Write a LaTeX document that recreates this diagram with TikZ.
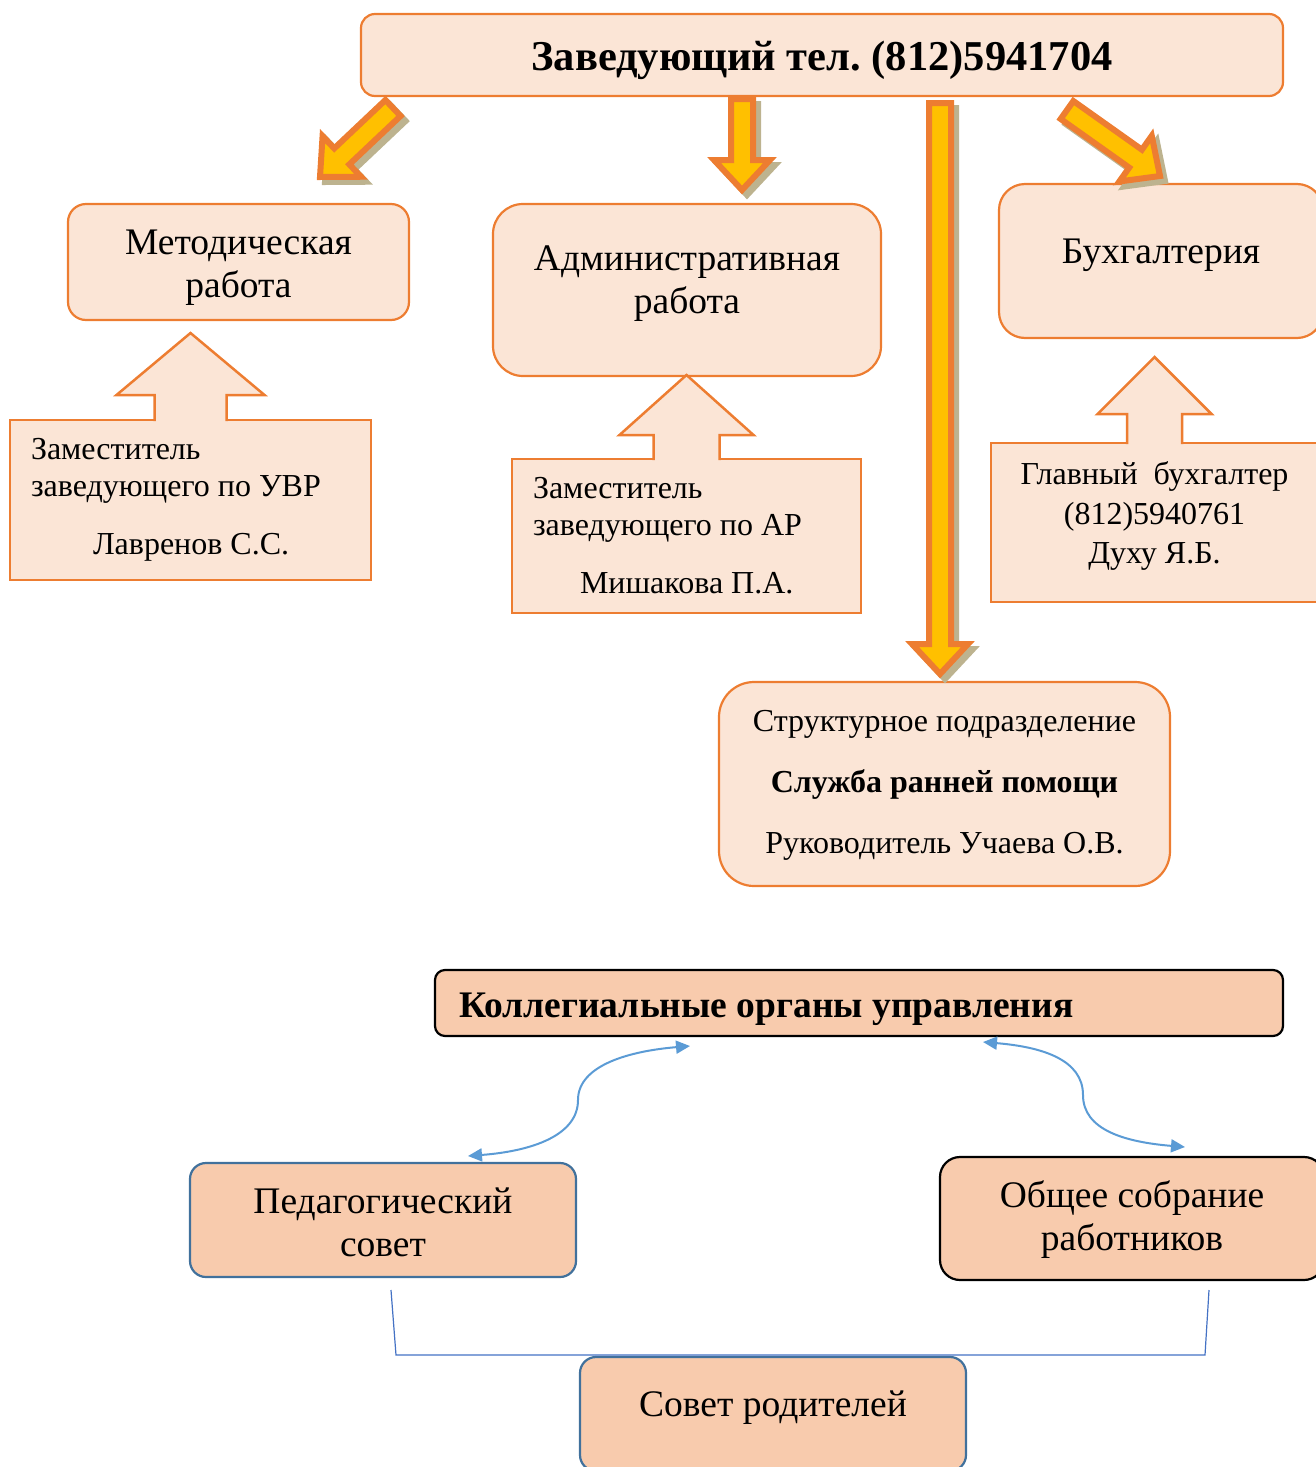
\documentclass[tikz,border=0pt]{standalone}
\usepackage{fontspec}
\setmainfont{Liberation Serif}
\usetikzlibrary{calc,arrows.meta}
\frenchspacing

\definecolor{peach}{HTML}{FBE5D6}
\definecolor{peachdark}{HTML}{F8CBAD}
\definecolor{orangeline}{HTML}{ED7D31}
\definecolor{arrowyellow}{HTML}{FFC000}
\definecolor{arrowshadow}{HTML}{BDB38F}
\definecolor{steelline}{HTML}{41719C}
\definecolor{curveblue}{HTML}{5B9BD5}
\definecolor{bracketblue}{HTML}{4472C4}

% fat block arrow polygon: style, tail, tip
\newcommand{\fatpoly}[3]{%
  \coordinate (hb) at ($(#3)!30pt!(#2)$);
  \path[#1] ($(#2)!11pt!90:(#3)$) -- ($(hb)!11pt!-90:(#2)$) -- ($(hb)!28pt!-90:(#2)$) -- (#3)
    -- ($(hb)!28pt!90:(#2)$) -- ($(hb)!11pt!90:(#2)$) -- ($(#2)!11pt!-90:(#3)$) -- cycle;}
\newcommand{\fatarrow}[2]{%
  \coordinate (sh1) at ($(#1)+(5,5)$);
  \coordinate (sh2) at ($(#2)+(5,5)$);
  \fatpoly{fill=arrowshadow, draw=arrowshadow, line width=6pt}{sh1}{sh2}
  \fatpoly{fill=arrowyellow, draw=orangeline, line width=6pt, line join=miter}{#1}{#2}}
% up arrow on top of a deputy box: node, shaft half, head half, head base, tip
\newcommand{\uparrowbox}[5]{%
  \fill[peach] ($(#1.north)+(-#2,3)$) -- ($(#1.north)+(-#2,-#4)$) -- ($(#1.north)+(-#3,-#4)$)
    -- ($(#1.north)+(0,-#5)$) -- ($(#1.north)+(#3,-#4)$) -- ($(#1.north)+(#2,-#4)$) -- ($(#1.north)+(#2,3)$) -- cycle;
  \draw[calloutline] ($(#1.north)+(-#2,1.2)$) -- ($(#1.north)+(-#2,-#4)$) -- ($(#1.north)+(-#3,-#4)$)
    -- ($(#1.north)+(0,-#5)$) -- ($(#1.north)+(#3,-#4)$) -- ($(#1.north)+(#2,-#4)$) -- ($(#1.north)+(#2,1.2)$);}
% text lines, lowered inside their box
\newcommand{\boxlines}[2]{\raisebox{-#1}[\height][\depth]{\begin{tabular}{@{}c@{}}#2\end{tabular}}}

\begin{document}
\begin{tikzpicture}[x=1pt,y=1pt,yscale=-1,
    obox/.style={draw=orangeline, fill=peach, line width=2.2pt, outer sep=0pt, inner sep=0pt, font={\fontsize{37.5}{43}\selectfont}},
    depbox/.style={draw=orangeline, fill=peach, line width=2.5pt, outer sep=0pt, inner sep=0pt, font={\fontsize{32}{37}\selectfont}},
    calloutline/.style={draw=orangeline, line width=2.5pt, line join=miter},
    lowbox/.style={fill=peachdark, line width=2.2pt, outer sep=0pt, inner sep=0pt, font={\fontsize{37.5}{43}\selectfont}},
    curvearrow/.style={draw=curveblue, line width=2pt, >={Triangle[length=14pt,width=13pt]}, <->},
    bracketline/.style={draw=bracketblue, line width=1.2pt}]
\useasboundingbox (0,0) rectangle (1316,1467);
\clip (0,0) rectangle (1316,1467);

% upper part
\node[obox, rounded corners=14pt, minimum width=922pt, minimum height=82pt,
  font={\fontsize{42.5}{49}\selectfont\bfseries}] (boss) at (822,55)
  {\raisebox{-5pt}[\height][\depth]{Заведующий тел. (812)5941704}};
\node[obox, rounded corners=18pt, minimum width=341pt, minimum height=116pt] (metod) at (238.5,262)
  {\boxlines{5.5pt}{Методическая\\работа}};
\node[obox, rounded corners=30pt, minimum width=388pt, minimum height=172pt] (admin) at (687,290)
  {\boxlines{-6.5pt}{Административная\\работа}};
\node[obox, rounded corners=26pt, minimum width=324pt, minimum height=154pt] (buh) at (1161,261)
  {\boxlines{-6pt}{Бухгалтерия}};

\node[depbox, minimum width=361pt, minimum height=160pt, text width=319pt, align=flush left] (zamUVR) at (190.5,500)
  {Заместитель\\заведующего по УВР\\[21pt]\hspace*{62pt}Лавренов С.С.};
\node[depbox, minimum width=349pt, minimum height=154pt, text width=307pt, align=flush left] (zamAR) at (686.5,536)
  {Заместитель\\заведующего по АР\\[21pt]\hspace*{47pt}Мишакова П.А.};
\node[depbox, minimum width=327pt, minimum height=159pt, font={\fontsize{32}{39.5}\selectfont}] (glavBuh) at (1154.5,522.5)
  {\boxlines{-6pt}{Главный~~бухгалтер\\(812)5940761\\Духу Я.Б.}};

\uparrowbox{zamUVR}{36}{74}{25}{87}
\uparrowbox{zamAR}{33}{67}{24}{84}
\uparrowbox{glavBuh}{27.5}{57}{29}{86}

\node[obox, rounded corners=35pt, minimum width=451pt, minimum height=204pt,
  font={\fontsize{32}{37}\selectfont}] (struct) at (944.5,784)
  {\boxlines{1.5pt}{Структурное подразделение\\[24pt]\textbf{Служба ранней помощи}\\[24pt]Руководитель Учаева О.В.}};

% fat arrows from the head
\coordinate (mTail) at (393,108);   \coordinate (mTip) at (320,177);
\coordinate (aTail) at (742,99);    \coordinate (aTip) at (742,190);
\coordinate (sTail) at (940,103);   \coordinate (sTip) at (940,674);
\coordinate (bTail) at (1067,110);  \coordinate (bTip) at (1160,176);
\fatarrow{mTail}{mTip}
\fatarrow{aTail}{aTip}
\fatarrow{sTail}{sTip}
\fatarrow{bTail}{bTip}

% lower part
\node[lowbox, draw=black, rounded corners=10pt, minimum width=848pt, minimum height=66pt,
  text width=800pt, align=flush left, font={\fontsize{37.5}{44}\selectfont\bfseries}] (kolleg) at (859,1003)
  {\raisebox{-6pt}[\height][\depth]{Коллегиальные органы управления}};
\node[lowbox, draw=steelline, rounded corners=16pt, minimum width=386pt, minimum height=114pt] (ped) at (383,1220)
  {\boxlines{6.5pt}{Педагогический\\совет}};
\node[lowbox, draw=black, rounded corners=20pt, minimum width=384pt, minimum height=123pt] (obsh) at (1132,1218.5)
  {\boxlines{2pt}{Общее собрание\\работников}};
\node[lowbox, draw=steelline, rounded corners=16pt, minimum width=386pt, minimum height=114pt] (sovet) at (773,1414)
  {\boxlines{-6pt}{Совет родителей}};

\coordinate (pL) at ($(ped.north)+(85,-7)$);
\coordinate (mL) at (578,1100);
\coordinate (kL) at ($(kolleg.south)+(-169,10)$);
\coordinate (kR) at ($(kolleg.south)+(124,6)$);
\coordinate (mR) at (1083,1095);
\coordinate (oR) at ($(obsh.north)+(53,-10)$);
\draw[curvearrow] (pL) .. controls +(65,-5) and +(0,35) .. (mL) .. controls +(0,-35) and +(-60,5) .. (kL);
\draw[curvearrow] (kR) .. controls +(60,5) and +(0,-35) .. (mR) .. controls +(0,35) and +(-60,-5) .. (oR);

\coordinate (pedLeg) at ($(ped.south)+(8,13)$);
\coordinate (obsLeg) at ($(obsh.south)+(77,10)$);
\draw[bracketline] (pedLeg) -- ++(5,65) -- ++(809,0) -- (obsLeg);
\end{tikzpicture}
\end{document}
